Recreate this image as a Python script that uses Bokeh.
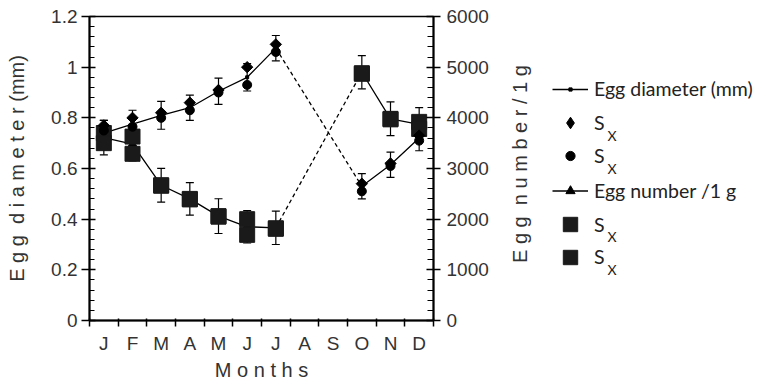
import math
from bokeh.plotting import figure
from bokeh.layouts import row
from bokeh.models import (Range1d, LinearAxis, FixedTicker, ColumnDataSource, Whisker,
                          TeeHead, Legend, LegendItem, Label, CustomJSTickFormatter)
from bokeh.embed import file_html
from bokeh.resources import INLINE

# ---------------- data ----------------
months = ["J", "F", "M", "A", "M", "J", "J", "A", "S", "O", "N", "D"]
sample_month_idx = [0, 1, 2, 3, 4, 5, 6, 9, 10, 11]   # months that were sampled
diam_mean = [0.74, 0.775, 0.81, 0.84, 0.905, 0.96, 1.075, 0.53, 0.615, 0.72]
diam_se = [0.05, 0.055, 0.055, 0.05, 0.052, 0.054, 0.05, 0.05, 0.05, 0.05]
diam_sx_diamond = [0.77, 0.80, 0.82, 0.86, 0.91, 1.00, 1.09, 0.54, 0.62, 0.73]
diam_sx_circle = [0.75, 0.765, 0.80, 0.83, 0.90, 0.93, 1.06, 0.51, 0.61, 0.71]
num_mean = [3610, 3480, 2670, 2400, 2060, 1850, 1830, 4900, 3980, 3870]
num_se = [340, 330, 333, 320, 343, 320, 330, 327, 333, 330]
num_sx_sq1 = [3700, 3630, 2670, 2400, 2060, 2000, 1820, 4870, 3980, 3920]
num_sx_sq2 = [3500, 3290, 2660, 2390, 2050, 1690, 1810, 4880, 3970, 3780]
diam_ticks = [0, 0.2, 0.4, 0.6, 0.8, 1.0, 1.2]
diam_minor = [round(v * 0.04, 2) for v in range(31)]
num_ticks = [0, 1000, 2000, 3000, 4000, 5000, 6000]
num_minor = [v * 200 for v in range(31)]
legend_labels = ["Egg diameter (mm)", "S", "S", "Egg number /1 g", "S", "S"]

x = [i + 0.5 for i in sample_month_idx]
src = ColumnDataSource(dict(
    x=x, diam=diam_mean,
    d_lo=[m - e for m, e in zip(diam_mean, diam_se)],
    d_hi=[m + e for m, e in zip(diam_mean, diam_se)],
    num=num_mean,
    n_lo=[m - e for m, e in zip(num_mean, num_se)],
    n_hi=[m + e for m, e in zip(num_mean, num_se)],
    dia=diam_sx_diamond, cir=diam_sx_circle, sq1=num_sx_sq1, sq2=num_sx_sq2,
))

TICK_FONT = "Liberation Sans"
TXT = "#333333"
LW = 1.3
SQ = "#1a1a1a"

# ---------------- main plot ----------------
p = figure(width=505, height=383, x_range=Range1d(0, 12), y_range=Range1d(0, 1.2),
           output_backend="svg", toolbar_location=None,
           min_border_left=89, min_border_right=72, min_border_top=16, min_border_bottom=62)
p.extra_y_ranges = {"num": Range1d(0, 6000)}
p.xgrid.visible = False
p.ygrid.visible = False
p.outline_line_color = "black"
p.outline_line_width = 1.5
p.background_fill_color = "white"
p.border_fill_color = "white"

# x axis
xa = p.xaxis[0]
xa.ticker = FixedTicker(ticks=[i + 0.5 for i in range(12)], minor_ticks=list(range(13)))
xa.major_label_overrides = {i + 0.5: m for i, m in enumerate(months)}
xa.major_tick_line_color = None
xa.minor_tick_in = 2
xa.minor_tick_out = 6
xa.minor_tick_line_width = 1.5
xa.axis_line_width = 2
xa.major_label_text_font = TICK_FONT
xa.major_label_text_font_size = "19px"
xa.major_label_text_color = TXT
xa.major_label_standoff = 6
xa.axis_label = "M o n t h s"
xa.axis_label_text_font = TICK_FONT
xa.axis_label_text_font_size = "20px"
xa.axis_label_text_font_style = "normal"
xa.axis_label_text_color = TXT
xa.axis_label_standoff = 2

# left axis
ya = p.yaxis[0]
ya.ticker = FixedTicker(ticks=diam_ticks, minor_ticks=diam_minor)
ya.formatter = CustomJSTickFormatter(code="return String(Math.round(tick*10)/10)")
ya.major_tick_in = 6
ya.major_tick_out = 8
ya.minor_tick_in = 5
ya.minor_tick_out = 0
ya.major_tick_line_width = 1.5
ya.minor_tick_line_width = 1.2
ya.axis_line_width = 2
ya.major_label_text_font = TICK_FONT
ya.major_label_text_font_size = "19px"
ya.major_label_text_color = TXT
ya.major_label_standoff = 4
ya.axis_label = "E g g \u00a0d i a m e t e r (mm)"
ya.axis_label_text_font = TICK_FONT
ya.axis_label_text_font_size = "20px"
ya.axis_label_text_font_style = "normal"
ya.axis_label_text_color = TXT
ya.axis_label_standoff = 20

# right axis (its title is drawn bottom-to-top in the side panel below)
ra = LinearAxis(y_range_name="num",
                ticker=FixedTicker(ticks=num_ticks, minor_ticks=num_minor))
ra.major_tick_in = 7
ra.major_tick_out = 7
ra.minor_tick_in = 6
ra.minor_tick_out = 0
ra.major_tick_line_width = 1.5
ra.minor_tick_line_width = 1.2
ra.axis_line_width = 2
ra.major_label_text_font = TICK_FONT
ra.major_label_text_font_size = "19px"
ra.major_label_text_color = TXT
ra.major_label_standoff = 6
p.add_layout(ra, "right")

# error bars (mean +/- Sx)
for up, lo, rn in (("d_hi", "d_lo", "default"), ("n_hi", "n_lo", "num")):
    w = Whisker(source=src, base="x", upper=up, lower=lo, dimension="height",
                line_color="black", line_width=1.2, y_range_name=rn,
                upper_head=TeeHead(size=8, line_color="black", line_width=1.2),
                lower_head=TeeHead(size=8, line_color="black", line_width=1.2))
    p.add_layout(w)

# egg diameter line: solid, dashed over the unsampled Aug-Sep, solid
p.line(x[:7], diam_mean[:7], line_color="black", line_width=LW)
p.line(x[6:8], diam_mean[6:8], line_color="black", line_width=LW, line_dash="4 3")
p.line(x[7:], diam_mean[7:], line_color="black", line_width=LW)

# egg number line
p.line(x[:7], num_mean[:7], line_color="black", line_width=LW, y_range_name="num")
p.line(x[6:8], num_mean[6:8], line_color="black", line_width=LW, line_dash="4 3",
       y_range_name="num")
p.line(x[7:], num_mean[7:], line_color="black", line_width=LW, y_range_name="num")

p.scatter("x", "num", source=src, marker="triangle", size=9, color="black",
          y_range_name="num")
p.scatter("x", "sq1", source=src, marker="square", size=15, color=SQ, y_range_name="num")
p.scatter("x", "sq2", source=src, marker="square", size=15, color=SQ, y_range_name="num")
p.scatter("x", "diam", source=src, marker="square", size=3, color="black")
p.scatter("x", "dia", source=src, marker="square", size=8, angle=math.pi / 4,
          color="black")
p.scatter("x", "cir", source=src, marker="circle", size=9, color="black")

# ---------------- side panel: right-axis title + legend ----------------
PW = 259
lg = figure(width=PW, height=383, x_range=Range1d(0, PW), y_range=Range1d(321, 16),
            output_backend="svg", toolbar_location=None,
            min_border_left=0, min_border_right=0, min_border_top=16, min_border_bottom=62,
            x_axis_location=None, y_axis_location=None)
lg.outline_line_color = None
lg.xgrid.visible = False
lg.ygrid.visible = False

lg.add_layout(Label(x=14, y=164, text="E g g \u00a0n u m b e r / 1 g", angle=math.pi / 2,
                    text_font=TICK_FONT, text_font_size="20px", text_color=TXT,
                    text_align="center", text_baseline="middle"))

lg.extra_y_ranges = {"off": Range1d(-20000, -10000)}   # swatch renderers stay off-view
kw = dict(source=src, y_range_name="off")
r_line1 = lg.line("x", "diam", line_color="black", line_width=LW, **kw)
r_dot = lg.scatter("x", "diam", marker="square", size=3, color="black", **kw)
r_dia = lg.scatter("x", "dia", marker="diamond", size=11, color="black", **kw)
r_cir = lg.scatter("x", "cir", marker="circle", size=9, color="black", **kw)
r_line2 = lg.line("x", "num", line_color="black", line_width=LW, **kw)
r_tri = lg.scatter("x", "num", marker="triangle", size=9, color="black", **kw)
r_sq1 = lg.scatter("x", "sq1", marker="square", size=15, color=SQ, **kw)
r_sq2 = lg.scatter("x", "sq2", marker="square", size=15, color=SQ, **kw)
item_renderers = [[r_line1, r_dot], [r_dia], [r_cir], [r_line2, r_tri], [r_sq1], [r_sq2]]

# legend layout: row centres (px from top) and swatch heights (marker = 0.4 * height)
row_center = [90, 123, 156, 191.5, 225, 257.5]
swatch_h = [8, 29, 23, 23, 38, 38]
LEG_X = 47
for lab, rs, c, gh in zip(legend_labels, item_renderers, row_center, swatch_h):
    h = max(gh, 22)
    leg = Legend(items=[LegendItem(label=lab, renderers=rs)],
                 location=(LEG_X, 321 - (c + h / 2)))
    leg.padding = 0
    leg.margin = 0
    leg.spacing = 0
    leg.glyph_width = 36
    leg.glyph_height = gh
    leg.label_height = 22
    leg.label_standoff = 6
    leg.border_line_color = None
    leg.background_fill_alpha = 0
    leg.label_text_font = "Lato"
    leg.label_text_font_size = "19.5px"
    leg.label_text_color = "#222222"
    lg.add_layout(leg)
    if lab == "S":   # subscript X of S_X
        lg.add_layout(Label(x=LEG_X + 55, y=c + 12, text="X", text_font="Lato",
                            text_font_size="14px", text_baseline="middle",
                            text_align="left", text_color="#222222"))

layout = row(p, lg)
open("out.html", "w").write(file_html(layout, INLINE))
